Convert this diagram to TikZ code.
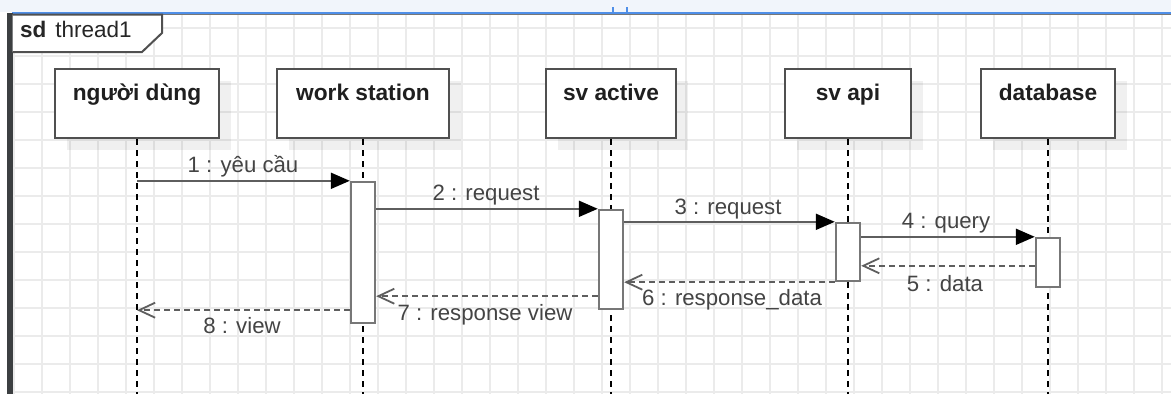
\documentclass[tikz,border=0pt]{standalone}
\usepackage{fontspec}
\setmainfont{Liberation Sans}
\usetikzlibrary{arrows.meta,shadows}
\definecolor{gridc}{HTML}{EBEBEB}
\definecolor{boxc}{HTML}{505050}
\definecolor{barc}{HTML}{777777}
\definecolor{msgc}{HTML}{5E5E5E}
\definecolor{lblc}{HTML}{444444}
\definecolor{bluec}{HTML}{4F8FE8}
\definecolor{topc}{HTML}{F1F5FB}
\definecolor{barleft}{HTML}{3C3F41}
\begin{document}
\begin{tikzpicture}[x=1pt,y=-1pt,
  actor/.style={draw=boxc, line width=2.2pt, fill=white, minimum height=69pt, inner sep=0pt,
    general shadow={fill=black, opacity=0.06, shadow xshift=12pt, shadow yshift=-12pt}},
  actortext/.style={font=\fontsize{22.7}{26}\selectfont\bfseries, text=black!88, anchor=base, inner sep=0pt},
  actbar/.style={draw=barc, line width=2.4pt, fill=white, minimum width=24pt, inner sep=0pt},
  lifeline/.style={draw=black, line width=1.8pt, dash pattern=on 6pt off 5pt},
  msg/.style={draw=msgc, line width=2pt, -{Triangle[length=19pt,width=16pt,color=black]}},
  ret/.style={draw=msgc, line width=2pt, dash pattern=on 6pt off 4pt,
    -{Straight Barb[length=16pt,width=15pt,color=msgc,line width=1.8pt]}},
  lbl/.style={font=\fontsize{22.2}{26}\selectfont, text=lblc, anchor=base, inner sep=0pt},
  gridline/.style={draw=gridc, line width=1.4pt}
]
\useasboundingbox (0,0) rectangle (1171,394);
% background
\fill[white] (0,0) rectangle (1171,394);
\fill[topc] (0,0) rectangle (1171,12);
% grid
\foreach \i in {0,...,41} \draw[gridline] ({14+28*\i},15) -- ({14+28*\i},394);
\foreach \j in {1,...,14} \draw[gridline] (12,{28*\j}) -- (1171,{28*\j});
% frame top and left bar
\draw[draw=barc, line width=1.5pt] (12,14.5) -- (1171,14.5);
\draw[draw=bluec, line width=2pt] (12,12.5) -- (1171,12.5);
\draw[draw=bluec, line width=1.3pt] (613,7) -- (613,12.5) (627,7) -- (627,12.5);
\fill[barleft] (7,13) rectangle (12.5,394);
% frame label
\draw[draw=boxc, line width=2pt, fill=white] (12.5,14.5) -- (162,14.5) -- (162,33) -- (142,52) -- (12.5,52);
\node[lbl, anchor=base west, text=black!85, font=\fontsize{22.5}{26}\selectfont] (sd) at (20,37) {\textbf{sd}\hspace{9pt}thread1};
% actors
\node[actor, minimum width=164pt] (nd) at (137,103.5) {};
\node[actor, minimum width=172pt] (ws) at (363,103.5) {};
\node[actor, minimum width=130pt] (sva) at (611,103.5) {};
\node[actor, minimum width=126pt] (api) at (848,103.5) {};
\node[actor, minimum width=134pt] (db) at (1048,103.5) {};
\node[actortext] (ndt) at (137,100) {người dùng};
\node[actortext] (wst) at (363,100) {work station};
\node[actortext] (svat) at (611,100) {sv active};
\node[actortext] (apit) at (848,100) {sv api};
\node[actortext] (dbt) at (1048,100) {database};
% lifelines
\coordinate (ndend) at (137,394);
\coordinate (wsend) at (363,394);
\coordinate (svaend) at (611,394);
\coordinate (apiend) at (848,394);
\coordinate (dbend) at (1048,394);
\draw[lifeline] (nd.south) -- (ndend);
\draw[lifeline] (ws.south) -- (wsend);
\draw[lifeline] (sva.south) -- (svaend);
\draw[lifeline] (api.south) -- (apiend);
\draw[lifeline] (db.south) -- (dbend);
% activation bars
\node[actbar, minimum height=141pt] (wsa) at (363,252.5) {};
\node[actbar, minimum height=99pt] (svaa) at (611,259.5) {};
\node[actbar, minimum height=58pt] (apia) at (848,252) {};
\node[actbar, minimum height=49pt] (dba) at (1048,262.5) {};
% messages
\draw[msg] (nd.south |- wsa.north west) -- (wsa.north west);
\draw[msg] (wsa.east |- svaa.north west) -- (svaa.north west);
\draw[msg] (svaa.east |- apia.north west) -- (apia.north west);
\draw[msg] (apia.east |- dba.north west) -- (dba.north west);
\draw[ret] ([yshift=-29pt]dba.north west) -- ([yshift=-29pt]dba.north west -| apia.east);
\draw[ret] (apia.south west) -- (apia.south west -| svaa.east);
\draw[ret] ([yshift=14pt]svaa.south west) -- ([yshift=14pt]svaa.south west -| wsa.east);
\draw[ret] ([yshift=14pt]wsa.south west) -- ([yshift=14pt]wsa.south west -| nd.south);
% labels
\node[lbl] (l1) at (243,172) {1 : yêu cầu};
\node[lbl] (l2) at (486,200) {2 : request};
\node[lbl] (l3) at (728,214) {3 : request};
\node[lbl] (l4) at (946,228) {4 : query};
\node[lbl] (l5) at (945,291) {5 : data};
\node[lbl] (l6) at (732,305) {6 : response\_data};
\node[lbl] (l7) at (485,320) {7 : response view};
\node[lbl] (l8) at (242,333) {8 : view};
\end{tikzpicture}
\end{document}
